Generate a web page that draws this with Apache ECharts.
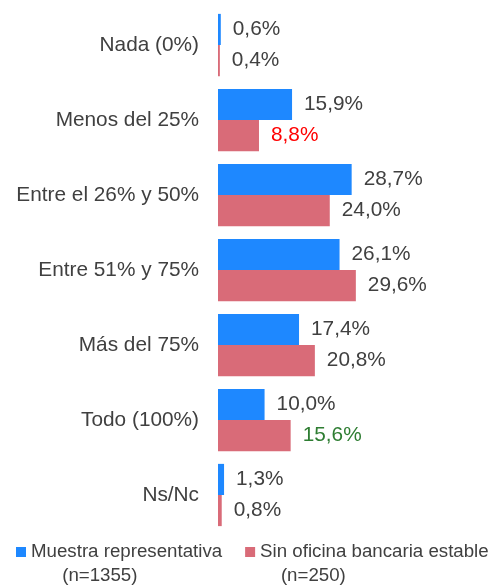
<!DOCTYPE html>
<html>
<head>
<meta charset="utf-8">
<script src="https://cdn.jsdelivr.net/npm/echarts@6/dist/echarts.min.js"></script>
<style>
  html, body { margin: 0; padding: 0; background: #fff; }
  #chart { width: 491px; height: 586px; }
</style>
</head>
<body>
<div id="chart"></div>
<script>
// categorías (de arriba a abajo)
var categories = ['Nada (0%)', 'Menos del 25%', 'Entre el 26% y 50%', 'Entre 51% y 75%', 'Más del 75%', 'Todo (100%)', 'Ns/Nc'];
var muestra = [0.6, 15.9, 28.7, 26.1, 17.4, 10.0, 1.3];
var sinOficina = [0.4, 8.8, 24.0, 29.6, 20.8, 15.6, 0.8];
var seriesNames = ['Muestra representativa', 'Sin oficina bancaria estable'];
var sampleSizes = ['(n=1355)', '(n=250)'];

// etiquetas resaltadas en la serie "Sin oficina"
var highlight = { 1: '#FF0000', 5: '#2E7D32' };

window.onload = function () {
    var chart = echarts.init(document.getElementById('chart'));
    var FONT = '"Liberation Sans", Arial, sans-serif';

    function fmt(v) {
        return v.toFixed(1).replace('.', ',') + '%';
    }

    var sinData = sinOficina.map(function (v, i) {
        if (highlight[i]) {
            return { value: v, label: { color: highlight[i] } };
        }
        return v;
    });

    var labelStyle = {
        show: true,
        position: 'right',
        distance: 12,
        color: '#404040',
        fontSize: 20.8,
        fontFamily: FONT,
        formatter: function (p) { return fmt(p.value); }
    };

    var option = {
        animation: false,
        textStyle: { fontFamily: FONT },
        grid: { left: 218, right: 110, top: 7.5, bottom: 53.5 },
        legend: {
            data: seriesNames,
            left: 16,
            top: 516,
            width: 480,
            padding: 0,
            icon: 'rect',
            itemWidth: 10,
            itemHeight: 10,
            itemGap: 23,
            textStyle: { fontSize: 18.7, color: '#404040', lineHeight: 24, fontFamily: FONT },
            formatter: function (name) {
                var i = seriesNames.indexOf(name);
                var pad = i === 0 ? '      ' : '    ';
                // línea vacía arriba para que el icono quede junto a la primera línea
                return ' \n' + name + '\n' + pad + sampleSizes[i];
            }
        },
        xAxis: {
            type: 'value',
            min: 0,
            max: 35,
            show: false
        },
        yAxis: {
            type: 'category',
            data: categories,
            inverse: true,
            axisLine: { show: false },
            axisTick: { show: false },
            axisLabel: { color: '#404040', fontSize: 20.8, margin: 19, fontFamily: FONT }
        },
        series: [
            {
                name: seriesNames[0],
                type: 'bar',
                data: muestra,
                itemStyle: { color: '#1E88FF' },
                barGap: '0%',
                barCategoryGap: '17%',
                label: labelStyle
            },
            {
                name: seriesNames[1],
                type: 'bar',
                data: sinData,
                itemStyle: { color: '#D96B78' },
                barGap: '0%',
                barCategoryGap: '17%',
                label: labelStyle
            }
        ]
    };

    chart.setOption(option);
};
</script>
</body>
</html>
